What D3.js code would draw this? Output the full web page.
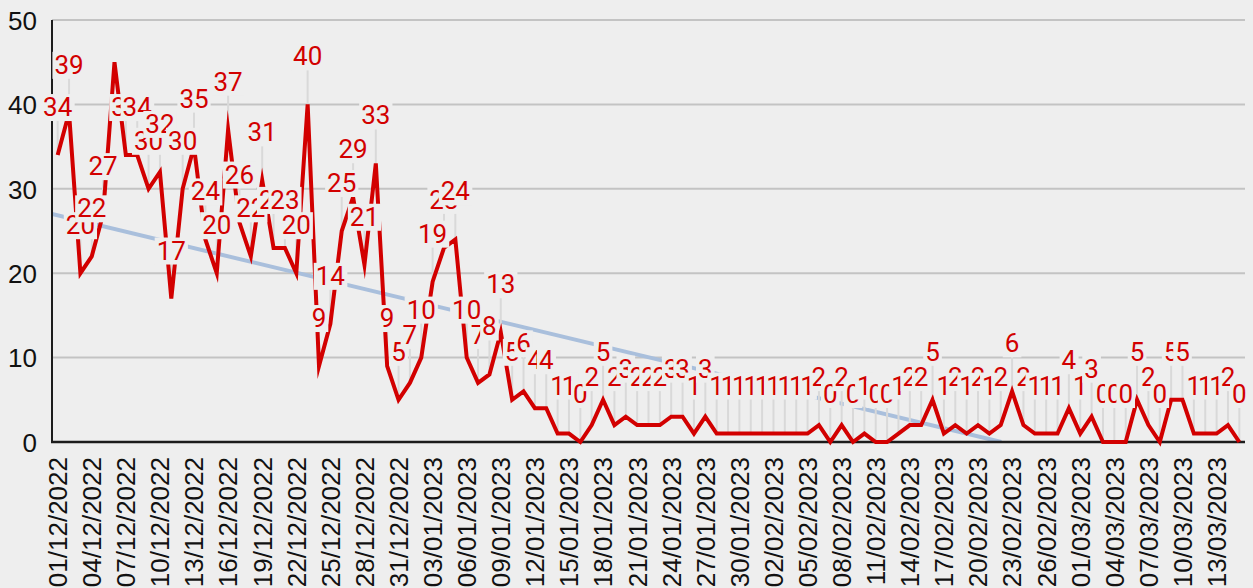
<!DOCTYPE html>
<html><head><meta charset="utf-8">
<script src="https://cdn.jsdelivr.net/npm/d3@7"></script>
<style>html,body{margin:0;padding:0;background:#eeeeee;} svg{display:block}</style>
</head><body><svg id="chart" width="1253" height="588"></svg>
<script>
// ---- data ----
const startDate = "01/12/2022";
const values = [
  34,39,20,22,27,45,34,34,30,32,
  17,30,35,24,20,37,26,22,31,23,
  23,20,40,9,14,25,29,21,33,9,
  5,7,10,19,23,24,10,7,8,13,
  5,6,4,4,1,1,0,2,5,2,
  3,2,2,2,3,3,1,3,1,1,
  1,1,1,1,1,1,1,2,0,2,
  0,1,0,0,1,2,2,5,1,2,
  1,2,1,2,6,2,1,1,1,4,
  1,3,0,0,0,5,2,0,5,5,
  1,1,1,2,0
];
const yTicks = [0,10,20,30,40,50];
const tickLabels = [
  "01/12/2022","04/12/2022","07/12/2022","10/12/2022","13/12/2022","16/12/2022",
  "19/12/2022","22/12/2022","25/12/2022","28/12/2022","31/12/2022","03/01/2023",
  "06/01/2023","09/01/2023","12/01/2023","15/01/2023","18/01/2023","21/01/2023",
  "24/01/2023","27/01/2023","30/01/2023","02/02/2023","05/02/2023","08/02/2023",
  "11/02/2023","14/02/2023","17/02/2023","20/02/2023","23/02/2023","26/02/2023",
  "01/03/2023","04/03/2023","07/03/2023","10/03/2023","13/03/2023"
];

// categories: consecutive days from startDate
const parse = d3.timeParse("%d/%m/%Y"), fmt = d3.timeFormat("%d/%m/%Y");
const categories = values.map((v,i)=>fmt(d3.timeDay.offset(parse(startDate), i)));

// ---- layout ----
const W = 1253, H = 588;
const L = 52, R = 1245, T = 20, B = 442;
const svg = d3.select("#chart");
svg.append("rect").attr("width",W).attr("height",H).attr("fill","#eeeeee");

const x = d3.scaleBand().domain(categories).range([L,R]).padding(0);
const xc = d => x(d) + x.bandwidth()/2;
const xi = d3.scaleLinear().domain([-0.5, values.length-0.5]).range([L,R]);
const y = d3.scaleLinear().domain([0,50]).range([B,T]);

svg.append("defs").append("clipPath").attr("id","plotclip")
  .append("rect").attr("x",L).attr("y",T-2).attr("width",R-L).attr("height",B-T+2);

// gridlines
svg.append("g").selectAll("line").data(yTicks.filter(t=>t>0)).join("line")
  .attr("x1",L).attr("x2",R).attr("y1",d=>y(d)).attr("y2",d=>y(d))
  .attr("stroke","#c3c3c3").attr("stroke-width",2);

// trend line (least squares on index)
const n = values.length;
const mx = d3.mean(values,(v,i)=>i), my = d3.mean(values);
const sxy = d3.sum(values,(v,i)=>(i-mx)*(v-my)), sxx = d3.sum(values,(v,i)=>(i-mx)*(i-mx));
const slope = sxy/sxx, icpt = my - slope*mx;
const xEnd = Math.min(n-0.5, -icpt/slope);
svg.append("line").attr("clip-path","url(#plotclip)")
  .attr("x1",xi(-0.5)).attr("y1",y(icpt+slope*-0.5))
  .attr("x2",xi(xEnd)).attr("y2",y(icpt+slope*xEnd))
  .attr("stroke","#a9bfdc").attr("stroke-width",4);

// leader lines
const labelOff = 48;
const showLabel = (v) => (y(v) - labelOff - 10) >= T;
svg.append("g").selectAll("line").data(values.map((v,i)=>({v,c:categories[i]})).filter(d=>showLabel(d.v))).join("line")
  .attr("x1",d=>xc(d.c)).attr("x2",d=>xc(d.c))
  .attr("y1",d=>y(d.v)).attr("y2",d=>y(d.v)-35)
  .attr("stroke","#d9d9d9").attr("stroke-width",2);

// axes
const yAxis = svg.append("g").attr("transform",`translate(${L},0)`)
  .call(d3.axisLeft(y).tickValues(yTicks).tickSize(0).tickPadding(15));
yAxis.select(".domain").remove();
yAxis.selectAll("text").attr("font-family","'Liberation Sans', Arial, sans-serif")
  .attr("font-size",26).attr("fill","#111").attr("dy","0.36em");

const xAxis = svg.append("g").attr("transform",`translate(0,${B})`)
  .call(d3.axisBottom(x).tickValues(tickLabels).tickSize(0));
xAxis.select(".domain").remove();
xAxis.selectAll("text")
  .attr("font-family","'Liberation Sans', Arial, sans-serif")
  .attr("font-size",26).attr("fill","#111")
  .attr("transform","rotate(-90)")
  .attr("text-anchor","end")
  .attr("x",-15).attr("y",0).attr("dy","0.36em");

// axis lines
svg.append("line").attr("x1",L).attr("x2",L).attr("y1",T).attr("y2",B+1)
  .attr("stroke","#1c1c1c").attr("stroke-width",2);
svg.append("line").attr("x1",L-1).attr("x2",R).attr("y1",B).attr("y2",B)
  .attr("stroke","#1c1c1c").attr("stroke-width",2.5);

// series line
const red = "#d20000";
svg.append("path").datum(values)
  .attr("d", d3.line().x((v,i)=>xc(categories[i])).y(v=>y(v)))
  .attr("fill","none").attr("stroke",red).attr("stroke-width",4)
  .attr("stroke-linejoin","miter").attr("stroke-miterlimit",10);

// data labels
const lg = svg.append("g");
values.forEach((v,i)=>{
  if(!showLabel(v)) return;
  const g = lg.append("g");
  const t = g.append("text").attr("x",xc(categories[i])).attr("y",y(v)-39)
    .attr("text-anchor","middle")
    .attr("font-family","Roboto, 'Noto Sans', sans-serif").attr("font-size",26)
    .attr("fill",red).text(v);
  const bb = t.node().getBBox();
  g.insert("rect","text").attr("x",bb.x-2).attr("y",bb.y+2).attr("width",bb.width+4).attr("height",bb.height-3)
    .attr("fill","#eeeeee");
});
</script></body></html>
